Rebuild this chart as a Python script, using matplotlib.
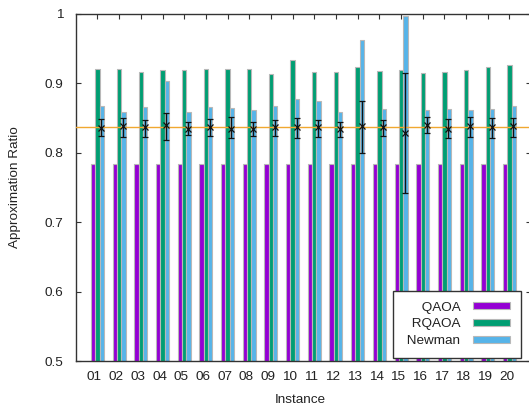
import matplotlib
matplotlib.use("Agg")
import matplotlib.pyplot as plt
import matplotlib.transforms as mtransforms
import numpy as np

plt.rcParams['font.family'] = ['Liberation Sans', 'DejaVu Sans']

instances = ["01", "02", "03", "04", "05", "06", "07", "08", "09", "10",
             "11", "12", "13", "14", "15", "16", "17", "18", "19", "20"]
series_names = ["QAOA", "RQAOA", "Newman"]
qaoa = [0.784] * 20
rqaoa = [0.921, 0.921, 0.917, 0.919, 0.920, 0.921, 0.921, 0.921, 0.913, 0.933,
         0.916, 0.916, 0.924, 0.918, 0.919, 0.915, 0.916, 0.919, 0.924, 0.927]
newman = [0.868, 0.859, 0.866, 0.904, 0.859, 0.866, 0.864, 0.862, 0.868, 0.877,
          0.874, 0.859, 0.962, 0.863, 0.997, 0.861, 0.863, 0.861, 0.863, 0.867]
err_center = [0.836, 0.838, 0.837, 0.840, 0.835, 0.837, 0.835, 0.835, 0.837, 0.837,
              0.837, 0.834, 0.838, 0.837, 0.828, 0.840, 0.835, 0.838, 0.837, 0.838]
err_high = [0.849, 0.850, 0.847, 0.858, 0.845, 0.848, 0.851, 0.845, 0.847, 0.850,
            0.847, 0.845, 0.874, 0.847, 0.915, 0.851, 0.848, 0.851, 0.850, 0.850]
err_low = [0.824, 0.823, 0.823, 0.819, 0.826, 0.824, 0.821, 0.824, 0.824, 0.821,
           0.823, 0.823, 0.800, 0.824, 0.742, 0.829, 0.821, 0.823, 0.821, 0.823]
ref_line = 0.837
yticks = [0.5, 0.6, 0.7, 0.8, 0.9, 1.0]
yticklabels = ["0.5", "0.6", "0.7", "0.8", "0.9", "1"]

FS = 9.7
fig = plt.figure(figsize=(5.29, 4.13), dpi=100)
ax = fig.add_axes([75.8 / 529, 52 / 413, 455.3 / 529, 347 / 413])

x = np.arange(1, len(instances) + 1)
w = 0.2
edge = '#b8b8b8'
colors = ['#9400D3', '#009E73', '#56B4E9']
handles = []
for off_i, vals, col in zip([-w, 0, w], [qaoa, rqaoa, newman], colors):
    h = ax.bar(x + off_i, vals, w, color=col, edgecolor=edge, linewidth=0.8)
    handles.append(h)

ax.axhline(ref_line, color='#F0A830', linewidth=1.0, zorder=3)

ec = np.array(err_center)
yerr = [ec - np.array(err_low), np.array(err_high) - ec]
ax.errorbar(x + 0.18, ec, yerr=yerr, fmt='x', color='#111111', ms=4.5, mew=0.9,
            elinewidth=1.0, capsize=2.3, capthick=1.0, zorder=4)

ax.set_xlim(0, 21)
ax.set_ylim(0.5, 1.0)
ax.set_axisbelow(True)
ax.set_yticks(yticks)
ax.set_yticklabels(yticklabels, fontsize=FS, color='#222222')
ax.set_xticks(x)
ax.set_xticklabels(instances, fontsize=FS, color='#222222')
ax.tick_params(axis='both', direction='in', length=3.5, width=0.8, color='#333333',
               top=True, right=True)
ax.tick_params(axis='y', pad=9.2)
ax.tick_params(axis='x', pad=7.5)
off = mtransforms.ScaledTranslation(-3 / 100, 0, fig.dpi_scale_trans)
for lab in ax.get_xticklabels():
    lab.set_transform(lab.get_transform() + off)

for s in ax.spines.values():
    s.set_color('#333333')
    s.set_linewidth(1.0)

ax.set_xlabel('Instance', fontsize=FS, color='#222222')
ax.set_ylabel('Approximation Ratio', fontsize=FS, color='#222222')
ax.xaxis.set_label_coords((300 - 75.8) / 455.3, -(394 - 361) / 347)
ax.yaxis.set_label_coords(-(75.8 - 21) / 455.3, 0.5)

leg = ax.legend(handles, [" " + n for n in series_names], loc='lower right',
                bbox_to_anchor=((521 - 75.8) / 455.3, (361 - 358) / 347),
                borderaxespad=0, markerfirst=False, fancybox=False, framealpha=1,
                edgecolor='#333333', fontsize=FS, handlelength=2.8,
                handleheight=0.45, handletextpad=0.9, labelspacing=0.36,
                borderpad=0.8)
leg.get_frame().set_linewidth(1.0)
for t in leg.get_texts():
    t.set_color('#222222')

fig.savefig('out.png', dpi=100)
